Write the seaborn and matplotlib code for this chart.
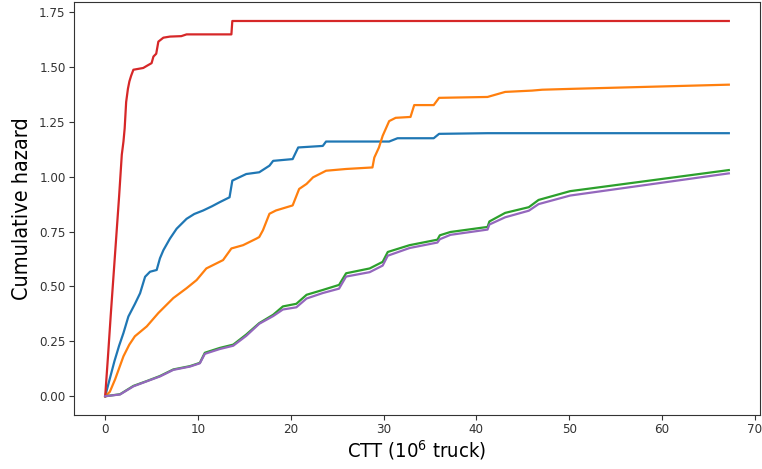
import matplotlib
matplotlib.use("Agg")
import matplotlib.pyplot as plt
import seaborn as sns
import pandas as pd

# Series 0 (blue)
blue_x = [0, 0.5, 1.0, 1.5, 1.97, 2.5, 3.2, 3.76, 4.3, 4.83, 5.55, 5.9, 6.27, 6.98, 7.7, 8.77, 9.6,
          10.56, 11.5, 12.35, 13.4, 13.7, 15.2, 16.6, 17.7, 18.1, 20.2, 20.8, 23.45, 23.8, 30.6, 31.5,
          35.4, 35.98, 41.2, 67.2]
blue_y = [0, 0.08, 0.16, 0.23, 0.288, 0.363, 0.42, 0.469, 0.544, 0.567, 0.575, 0.628, 0.665, 0.718,
          0.763, 0.808, 0.83, 0.846, 0.865, 0.884, 0.906, 0.982, 1.012, 1.02, 1.05, 1.072, 1.08, 1.133,
          1.14, 1.16, 1.16, 1.175, 1.175, 1.195, 1.198, 1.198]

# Series 1 (orange)
orange_x = [0, 0.5, 1.07, 1.97, 2.6, 3.2, 4.48, 5.73, 7.34, 8.77, 9.85, 10.9, 12.7, 13.6, 14.86, 16.3,
            16.6, 17.0, 17.7, 18.4, 20.2, 20.9, 21.7, 22.4, 23.8, 25.96, 28.8, 29.0, 29.5, 29.9, 30.6,
            31.3, 32.9, 33.3, 35.4, 35.98, 41.2, 43.1, 46.0, 47.1, 50.3, 67.2]
orange_y = [0, 0.02, 0.077, 0.182, 0.235, 0.273, 0.318, 0.379, 0.447, 0.492, 0.529, 0.582, 0.62, 0.673,
            0.688, 0.718, 0.725, 0.756, 0.831, 0.846, 0.869, 0.944, 0.967, 0.997, 1.027, 1.035, 1.042,
            1.087, 1.133, 1.186, 1.253, 1.268, 1.272, 1.326, 1.326, 1.359, 1.363, 1.386, 1.392, 1.396,
            1.40, 1.419]

# Series 2 (green)
green_x = [0, 1.6, 3.04, 4.48, 5.9, 7.34, 9.13, 10.2, 10.74, 12.35, 13.8, 15.2, 16.6, 18.1, 19.15, 20.6,
           21.7, 23.45, 25.2, 25.96, 28.5, 29.9, 30.45, 32.8, 35.8, 36.06, 37.2, 41.2, 41.4, 43.1, 45.65,
           46.7, 50.1, 67.2]
green_y = [0, 0.009, 0.047, 0.069, 0.092, 0.122, 0.137, 0.152, 0.198, 0.22, 0.235, 0.281, 0.333, 0.371,
           0.409, 0.421, 0.462, 0.484, 0.507, 0.56, 0.582, 0.612, 0.657, 0.688, 0.713, 0.733, 0.748,
           0.771, 0.796, 0.835, 0.861, 0.894, 0.934, 1.030]

# Series 3 (red)
red_x = [0, 0.3, 0.6, 0.9, 1.2, 1.5, 1.79, 1.97, 2.1, 2.26, 2.45, 2.61, 2.8, 3.04, 4.1, 4.5, 5.0, 5.2,
         5.5, 5.73, 6.27, 6.98, 8.2, 8.77, 13.6, 13.7, 67.2]
red_y = [0, 0.18, 0.37, 0.55, 0.73, 0.91, 1.10, 1.16, 1.22, 1.34, 1.40, 1.434, 1.46, 1.487, 1.495,
         1.505, 1.517, 1.547, 1.56, 1.615, 1.633, 1.638, 1.64, 1.648, 1.648, 1.709, 1.709]

# Series 4 (purple)
purple_x = green_x
purple_y = [0, 0.008, 0.045, 0.068, 0.09, 0.12, 0.135, 0.15, 0.193, 0.215, 0.23, 0.275, 0.33, 0.365,
            0.395, 0.405, 0.445, 0.47, 0.49, 0.545, 0.565, 0.595, 0.64, 0.675, 0.70, 0.715, 0.735,
            0.759, 0.782, 0.815, 0.845, 0.875, 0.914, 1.015]

y_ticks = [0, 0.25, 0.5, 0.75, 1.0, 1.25, 1.5, 1.75]
x_ticks = [0, 10, 20, 30, 40, 50, 60, 70]

series = [(blue_x, blue_y), (orange_x, orange_y), (green_x, green_y), (red_x, red_y), (purple_x, purple_y)]
colors = sns.color_palette("tab10", 5)

plt.rcParams["font.family"] = ["DejaVu Sans"]
plt.rcParams["font.stretch"] = "condensed"

fig = plt.figure(figsize=(7.62, 4.69), dpi=100)
ax = fig.add_axes([74 / 762, 54 / 469, 686 / 762, 413 / 469])

for (xs, ys), c in zip(series, colors):
    df = pd.DataFrame({"x": xs, "y": ys})
    sns.lineplot(data=df, x="x", y="y", color=c, estimator=None, sort=False, lw=1.6, ax=ax)

ax.set_xticks(x_ticks)
ax.set_yticks(y_ticks)
ax.set_yticklabels([f"{v:.2f}" for v in y_ticks])
ax.set_xlim(-3.36, 70.56)
ax.set_ylim(-0.0855, 1.7955)
ax.tick_params(labelsize=9.5, pad=2.5, length=3.5, colors="#333333")
for s in ax.spines.values():
    s.set_color("#333333")
ax.set_xlabel(r"CTT ($10^6$ truck)", fontsize=14.5, labelpad=1.5)
ax.set_ylabel("Cumulative hazard", fontsize=15.5, labelpad=5)

fig.savefig("out.png", dpi=100)
